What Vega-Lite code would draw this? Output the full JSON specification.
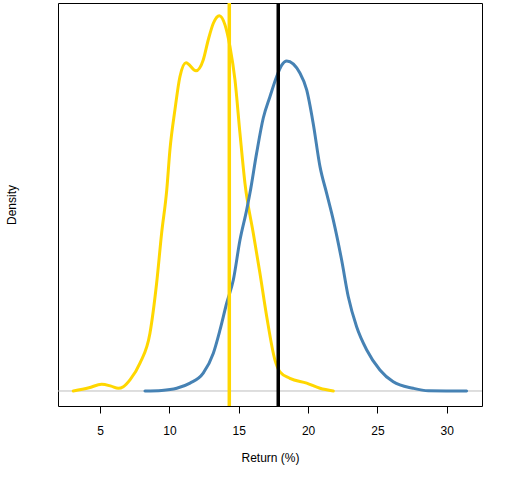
{
  "$schema": "https://vega.github.io/schema/vega-lite/v6.json",
  "description": "Density of returns, two series with vertical markers",
  "width": 424,
  "height": 403,
  "autosize": "none",
  "padding": {"left": 58, "top": 3, "right": 30, "bottom": 74},
  "datasets": {
    "curves": [
      {"series": "yellow", "ret": 3.07, "density": 0.0},
      {"series": "yellow", "ret": 4.2, "density": 0.0012},
      {"series": "yellow", "ret": 5.12, "density": 0.0025},
      {"series": "yellow", "ret": 5.8, "density": 0.0018},
      {"series": "yellow", "ret": 6.32, "density": 0.001},
      {"series": "yellow", "ret": 6.68, "density": 0.0016},
      {"series": "yellow", "ret": 7.16, "density": 0.0041},
      {"series": "yellow", "ret": 7.88, "density": 0.0103},
      {"series": "yellow", "ret": 8.6, "density": 0.0214},
      {"series": "yellow", "ret": 9.08, "density": 0.0399},
      {"series": "yellow", "ret": 9.44, "density": 0.0584},
      {"series": "yellow", "ret": 9.81, "density": 0.0744},
      {"series": "yellow", "ret": 10.04, "density": 0.0893},
      {"series": "yellow", "ret": 10.4, "density": 0.1041},
      {"series": "yellow", "ret": 10.76, "density": 0.1164},
      {"series": "yellow", "ret": 11.2, "density": 0.1216},
      {"series": "yellow", "ret": 11.92, "density": 0.1186},
      {"series": "yellow", "ret": 12.44, "density": 0.1226},
      {"series": "yellow", "ret": 12.8, "density": 0.13},
      {"series": "yellow", "ret": 13.17, "density": 0.1362},
      {"series": "yellow", "ret": 13.6, "density": 0.139},
      {"series": "yellow", "ret": 14.01, "density": 0.1356},
      {"series": "yellow", "ret": 14.37, "density": 0.1275},
      {"series": "yellow", "ret": 14.73, "density": 0.1152},
      {"series": "yellow", "ret": 15.09, "density": 0.0954},
      {"series": "yellow", "ret": 15.45, "density": 0.0769},
      {"series": "yellow", "ret": 16.05, "density": 0.0584},
      {"series": "yellow", "ret": 16.53, "density": 0.0436},
      {"series": "yellow", "ret": 17.02, "density": 0.0275},
      {"series": "yellow", "ret": 17.61, "density": 0.0115},
      {"series": "yellow", "ret": 17.97, "density": 0.0071},
      {"series": "yellow", "ret": 18.69, "density": 0.0047},
      {"series": "yellow", "ret": 19.9, "density": 0.0029},
      {"series": "yellow", "ret": 20.86, "density": 0.001},
      {"series": "yellow", "ret": 21.82, "density": 0.0},
      {"series": "blue", "ret": 8.24, "density": 0.0},
      {"series": "blue", "ret": 9.44, "density": 0.0002},
      {"series": "blue", "ret": 10.53, "density": 0.001},
      {"series": "blue", "ret": 11.49, "density": 0.0029},
      {"series": "blue", "ret": 12.44, "density": 0.0066},
      {"series": "blue", "ret": 13.17, "density": 0.014},
      {"series": "blue", "ret": 13.65, "density": 0.0226},
      {"series": "blue", "ret": 14.13, "density": 0.0325},
      {"series": "blue", "ret": 14.61, "density": 0.0411},
      {"series": "blue", "ret": 15.09, "density": 0.0559},
      {"series": "blue", "ret": 15.57, "density": 0.067},
      {"series": "blue", "ret": 15.81, "density": 0.0733},
      {"series": "blue", "ret": 16.29, "density": 0.0881},
      {"series": "blue", "ret": 16.77, "density": 0.1011},
      {"series": "blue", "ret": 17.25, "density": 0.109},
      {"series": "blue", "ret": 17.73, "density": 0.1164},
      {"series": "blue", "ret": 18.1, "density": 0.1207},
      {"series": "blue", "ret": 18.46, "density": 0.1222},
      {"series": "blue", "ret": 19.42, "density": 0.1177},
      {"series": "blue", "ret": 19.9, "density": 0.1115},
      {"series": "blue", "ret": 20.37, "density": 0.0991},
      {"series": "blue", "ret": 20.86, "density": 0.0831},
      {"series": "blue", "ret": 21.34, "density": 0.0732},
      {"series": "blue", "ret": 21.82, "density": 0.0633},
      {"series": "blue", "ret": 22.42, "density": 0.0485},
      {"series": "blue", "ret": 22.9, "density": 0.0349},
      {"series": "blue", "ret": 23.5, "density": 0.0238},
      {"series": "blue", "ret": 24.23, "density": 0.0152},
      {"series": "blue", "ret": 25.18, "density": 0.0078},
      {"series": "blue", "ret": 26.14, "density": 0.0034},
      {"series": "blue", "ret": 27.58, "density": 0.001},
      {"series": "blue", "ret": 28.67, "density": 0.0001},
      {"series": "blue", "ret": 31.43, "density": 0.0}
    ],
    "markers": [
      {"series": "yellow", "ret": 14.32},
      {"series": "black", "ret": 17.85}
    ]
  },
  "config": {
    "view": {"stroke": "black", "strokeWidth": 1},
    "font": "Liberation Sans",
    "axis": {"labelFont": "Liberation Sans", "titleFont": "Liberation Sans", "titleFontWeight": "normal", "grid": false}
  },
  "layer": [
    {
      "data": {"values": [{"zero": 0}]},
      "mark": {"type": "rule", "color": "#BEBEBE", "strokeWidth": 1},
      "encoding": {"y": {"field": "zero", "type": "quantitative", "scale": {"domain": [-0.00556, 0.1437], "nice": false, "zero": false}}}
    },
    {
      "data": {"name": "curves"},
      "mark": {"type": "line", "strokeWidth": 3, "strokeJoin": "round", "strokeCap": "round", "interpolate": "monotone"},
      "encoding": {
        "x": {
          "field": "ret", "type": "quantitative",
          "scale": {"domain": [1.97, 32.54], "nice": false, "zero": false},
          "axis": {
            "title": "Return (%)", "values": [5, 10, 15, 20, 25, 30], "domain": false,
            "tickSize": 7, "tickColor": "black", "labelColor": "black", "labelFontSize": 12,
            "labelPadding": 12, "titleFontSize": 12, "titleColor": "black", "titlePadding": 16
          }
        },
        "y": {
          "field": "density", "type": "quantitative",
          "scale": {"domain": [-0.00556, 0.1437], "nice": false, "zero": false},
          "axis": {
            "title": "Density", "ticks": false, "labels": false, "domain": false,
            "titleFontSize": 12, "titleColor": "black", "titlePadding": 40
          }
        },
        "color": {
          "field": "series", "type": "nominal",
          "scale": {"domain": ["yellow", "blue"], "range": ["#FFD700", "#4682B4"]},
          "legend": null
        },
        "detail": {"field": "series"}
      }
    },
    {
      "data": {"name": "markers"},
      "mark": {"type": "rule", "strokeWidth": 3.5},
      "encoding": {
        "x": {"field": "ret", "type": "quantitative"},
        "color": {
          "field": "series", "type": "nominal",
          "scale": {"domain": ["yellow", "black"], "range": ["#FFD700", "black"]},
          "legend": null
        }
      }
    }
  ],
  "resolve": {"scale": {"color": "independent"}}
}
